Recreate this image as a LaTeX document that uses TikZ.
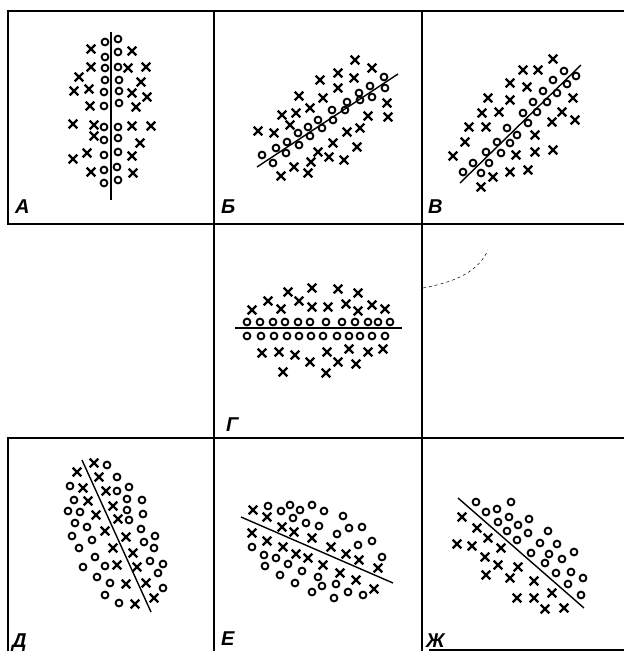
\documentclass[tikz,border=0pt]{standalone}
\usepackage{fontspec}
\setsansfont{Liberation Sans}
\usepackage{tikz}

\tikzset{
  frame/.style={line width=1.8pt, line cap=rect},
  split/.style={line width=1.4pt},
  circ/.style={line width=1.9pt},
  xmark/.pic={\draw[line width=2.2pt] (-4.3pt,-4.3pt) -- (4.3pt,4.3pt) (-4.3pt,4.3pt) -- (4.3pt,-4.3pt);},
  panel/.style={anchor=base west, inner sep=0pt, font=\sffamily\bfseries\itshape\fontsize{20}{20}\selectfont}
}

\begin{document}
\begin{tikzpicture}[x=1pt,y=-1pt]
  \useasboundingbox (0,0) rectangle (624,651);
  % frames
  \draw[frame] (8,11) -- (624,11);
  \draw[frame] (8,224) -- (624,224);
  \draw[frame] (8,438) -- (624,438);
  \draw[frame] (430,650) -- (624,650);
  \draw[frame] (8,11) -- (8,224);
  \draw[frame] (8,438) -- (8,651);
  \draw[frame] (214,11) -- (214,651);
  \draw[frame] (422,11) -- (422,651);

  % A
  \draw[split] (111,32) -- (111,200);
  \foreach \p in {(105,42),(105,57),(105,68),(105,80),(104,92),(104,106),(104,127),(104,140),(104,155),(104,170),(104,183),
                  (118,39),(118,52),(118,67),(119,80),(119,91),(119,103),(118,127),(118,138),(118,152),(117,167),(118,180)}
    \draw[circ] \p circle (3.4pt);
  \foreach \p in {(91,49),(132,51),(91,67),(128,68),(146,67),(79,77),(141,82),(74,91),(89,89),(132,93),(147,97),(90,106),
                  (136,107),(73,124),(94,125),(132,126),(151,126),(94,136),(140,143),(73,159),(87,153),(132,156),(91,172),(133,173)}
    \pic at \p {xmark};
  \node[panel] (labA) at (15,213) {А};

  % B
  \draw[split] (257,167) -- (398,74);
  \foreach \p in {(262,155),(273,163),(276,148),(286,153),(287,142),(299,145),(298,133),(310,136),(308,127),(322,128),(318,120),
                  (333,120),(332,110),(345,110),(347,102),(359,93),(360,100),(372,97),(370,86),(384,77),(385,88)}
    \draw[circ] \p circle (3.4pt);
  \foreach \p in {(355,60),(372,68),(320,80),(338,73),(354,78),(338,88),(299,96),(323,98),(282,115),(296,113),(310,108),(258,131),
                  (274,133),(290,125),(387,103),(388,117),(368,116),(347,132),(360,128),(333,143),(318,152),(329,157),(344,160),
                  (357,147),(311,162),(294,167),(281,176),(308,173)}
    \pic at \p {xmark};
  \node[panel] (labB) at (221,213) {Б};

  % V
  \draw[split] (460,183) -- (581,65);
  \foreach \p in {(463,172),(481,173),(473,163),(489,163),(486,152),(501,153),(497,142),(510,143),(507,128),(517,135),(528,123),
                  (523,113),(537,112),(533,102),(547,102),(543,91),(557,93),(553,80),(567,84),(564,71),(576,76)}
    \draw[circ] \p circle (3.4pt);
  \foreach \p in {(553,59),(523,70),(538,70),(510,83),(527,87),(488,98),(510,100),(482,113),(499,112),(469,127),(486,127),(465,142),
                  (453,156),(573,98),(562,112),(575,120),(552,122),(535,135),(553,150),(535,152),(516,155),(528,170),(510,172),
                  (493,177),(481,187)}
    \pic at \p {xmark};
  \node[panel] (labV) at (428,213) {В};

  % G
  \draw[split] (235,328) -- (402,328);
  \foreach \x in {247,260,273,285,298,310,326,342,355,368,378,390}
    \draw[circ] (\x,322) circle (3.4pt);
  \foreach \x in {247,261,274,287,299,311,323,337,349,360,372,385}
    \draw[circ] (\x,336) circle (3.4pt);
  \foreach \p in {(252,310),(268,301),(281,309),(288,292),(299,301),(312,288),(312,307),(328,307),(338,289),(346,304),(358,293),
                  (358,311),(372,305),(385,309),(262,353),(279,352),(295,355),(310,362),(327,352),(338,362),(349,349),(356,364),
                  (368,352),(383,349),(283,372),(326,373)}
    \pic at \p {xmark};
  \node[panel] (labG) at (226,431) {Г};
  \draw[line width=0.5pt, dashed] (423,288) .. controls (455,282) and (478,272) .. (488,250);

  % D
  \draw[split] (82,460) -- (151,612);
  \foreach \p in {(107,465),(117,477),(70,486),(117,491),(129,487),(74,500),(127,499),(142,500),(68,511),(80,512),(127,510),
                  (143,514),(75,523),(87,527),(129,520),(141,529),(72,536),(92,540),(155,536),(144,542),(79,548),(154,548),
                  (95,557),(150,561),(163,564),(83,567),(105,566),(158,573),(97,577),(110,583),(163,588),(105,595),(119,603)}
    \draw[circ] \p circle (3.4pt);
  \foreach \p in {(77,472),(94,463),(99,477),(83,488),(106,491),(88,501),(113,506),(96,515),(118,519),(105,531),(126,537),
                  (113,548),(133,553),(117,565),(137,567),(126,584),(146,583),(135,604),(154,598)}
    \pic at \p {xmark};
  \node[panel] (labD) at (12,647) {Д};

  % E
  \draw[split] (241,517) -- (393,583);
  \foreach \p in {(268,506),(281,511),(290,505),(300,510),(312,505),(324,511),(343,516),(293,518),(306,523),(319,526),(349,528),
                  (362,527),(337,534),(358,545),(372,541),(382,557),(252,547),(264,555),(276,558),(288,564),(265,566),(302,571),
                  (280,575),(318,577),(295,583),(322,586),(336,584),(312,592),(348,592),(334,598),(363,595)}
    \draw[circ] \p circle (3.4pt);
  \foreach \p in {(253,510),(267,517),(282,527),(294,532),(252,533),(267,541),(283,547),(296,554),(308,558),(312,538),(331,547),
                  (346,554),(359,560),(378,568),(323,565),(340,573),(356,580),(374,589)}
    \pic at \p {xmark};
  \node[panel] (labE) at (221,645) {Е};

  % ZH
  \draw[split] (458,498) -- (584,608);
  \foreach \p in {(476,502),(486,512),(497,509),(511,502),(498,522),(509,517),(518,525),(529,519),(507,531),(528,533),(517,540),
                  (548,531),(540,543),(557,544),(574,552),(531,553),(549,554),(562,559),(545,563),(571,572),(556,573),(583,578),
                  (568,584),(581,595)}
    \draw[circ] \p circle (3.4pt);
  \foreach \p in {(462,517),(477,528),(488,538),(457,544),(472,546),(501,548),(485,557),(498,565),(518,567),(486,575),(534,581),
                  (510,578),(552,593),(517,598),(534,598),(545,609),(564,608)}
    \pic at \p {xmark};
  \node[panel] (labZh) at (426,647) {Ж};
\end{tikzpicture}
\end{document}
